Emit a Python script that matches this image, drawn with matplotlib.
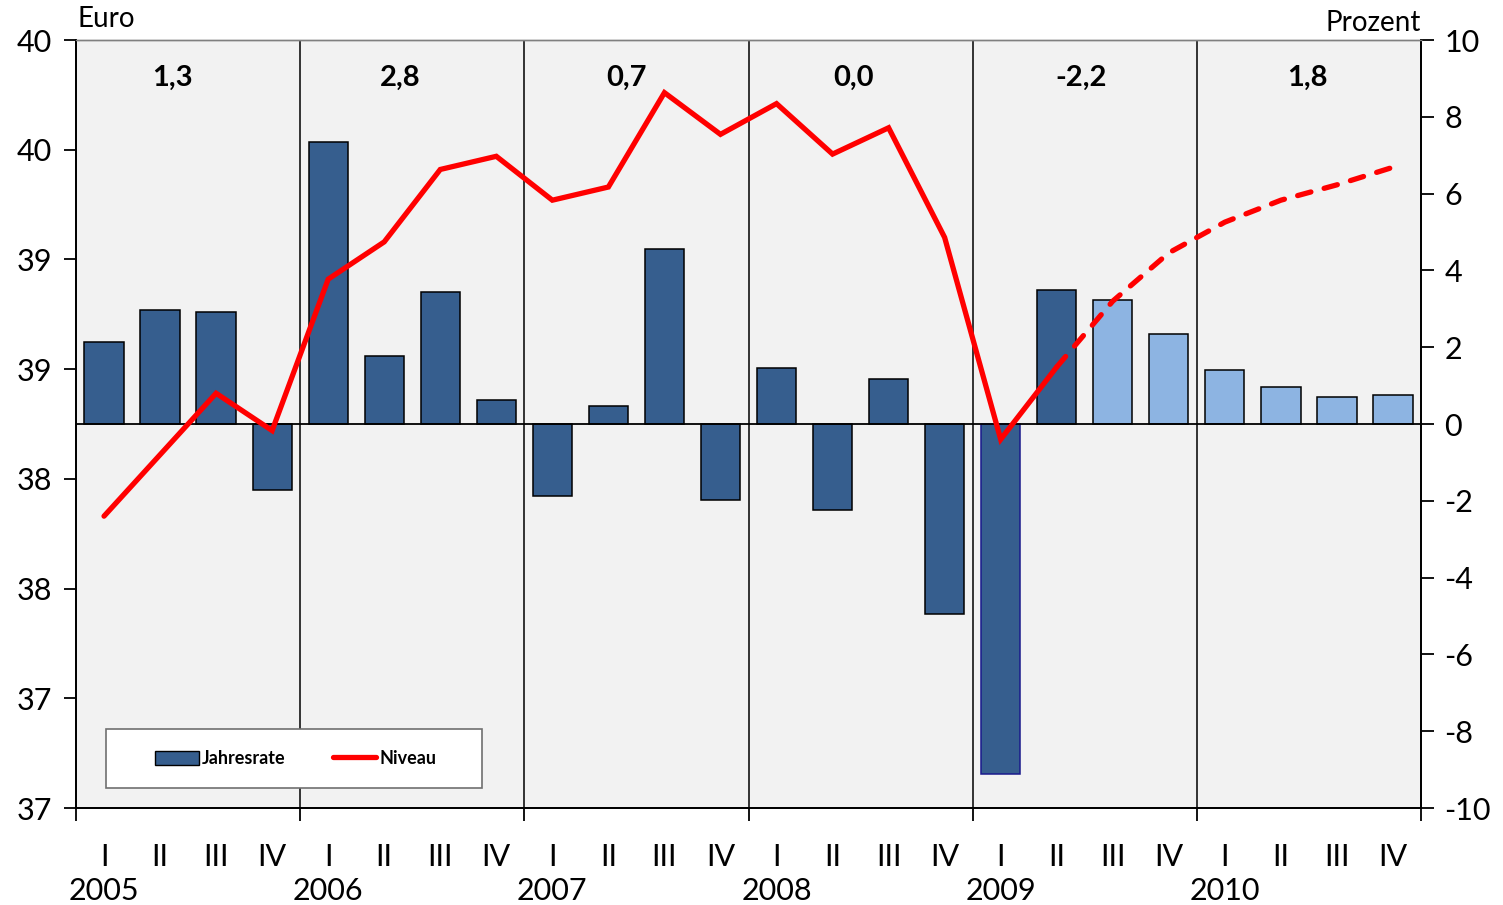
import matplotlib.pyplot as plt
from matplotlib.patches import Rectangle, Patch
from matplotlib.lines import Line2D

plt.rcParams['font.family'] = ['Lato', 'DejaVu Sans']

# Daten
years = ['2005', '2006', '2007', '2008', '2009', '2010']
quarters = ['I', 'II', 'III', 'IV']
annual = ['1,3', '2,8', '0,7', '0,0', '-2,2', '1,8']

# Jahresrate (Prozent, rechte Achse)
rate = [2.14, 2.97, 2.92, -1.72,
        7.34, 1.77, 3.44, 0.63,
        -1.88, 0.47, 4.56, -1.98,
        1.46, -2.24, 1.17, -4.95,
        -9.11, 3.49, 3.23, 2.34,
        1.41, 0.96, 0.70, 0.76]
# Niveau (Euro, linke Achse)
niveau = [38.08, 38.36, 38.64, 38.47,
          39.16, 39.33, 39.66, 39.72,
          39.52, 39.58, 40.01, 39.82,
          39.96, 39.73, 39.85, 39.35,
          38.43, 38.76, 39.06, 39.28,
          39.42, 39.52, 39.59, 39.67]
n_ist = 18  # ab hier Prognose

dark = '#365E8E'
light = '#8DB4E2'
red = '#FF0000'

fig = plt.figure(figsize=(15.03, 9.05), dpi=100)
ax = fig.add_axes([76/1503, 97/905, 1345/1503, 768/905])
ax2 = ax.twinx()

x = list(range(len(rate)))
colors = [dark if i < n_ist else light for i in x]
edges = ['black'] * len(x)
edges[16] = '#1a1a8c'
ax.bar(x, rate, width=0.7, color=colors, edgecolor=edges, linewidth=1.1, zorder=3)
ax.axhline(0, color='black', lw=1.3, zorder=4)
for k in range(1, 6):
    ax.axvline(4*k - 0.5, color='black', lw=1.1, zorder=2)
ax.set_facecolor('#F2F2F2')
ax.set_xlim(-0.5, 23.5)
ax.set_ylim(-10, 10)
ax.yaxis.tick_right()
ax.set_yticks(range(-10, 11, 2))
ax.set_yticklabels([str(v) for v in range(-10, 11, 2)])

ax2.plot(x[:n_ist], niveau[:n_ist], color=red, lw=3.8, solid_capstyle='round',
         solid_joinstyle='miter', zorder=5)
ax2.plot(x[n_ist-1:], niveau[n_ist-1:], color=red, lw=3.8, dashes=(2.6, 2.6),
         dash_capstyle='round', zorder=5)
ax2.set_ylim(36.75, 40.25)
yt = [36.75 + 0.5*i for i in range(8)]
ax2.set_yticks(yt)
ax2.set_yticklabels(['%.0f' % round(v + 0.01) for v in yt])
ax2.yaxis.tick_left()

for a in (ax, ax2):
    a.spines['top'].set_color('#808080')
    a.spines['top'].set_linewidth(1.0)
    for s in ('left', 'right', 'bottom'):
        a.spines[s].set_linewidth(1.3)
        a.spines[s].set_color('black')
    a.tick_params(axis='y', labelsize=22, length=9, width=1.3, pad=8)

ax.set_xticks([4*k - 0.5 for k in range(7)])
ax.set_xticklabels([])
ax.tick_params(axis='x', length=9, width=1.3, direction='out')

trans = ax.get_xaxis_transform()
for i in x:
    ax.text(i, -0.064, quarters[i % 4], transform=trans, ha='center', va='center', fontsize=22)
for k, y in enumerate(years):
    ax.text(4*k, -0.108, y, transform=trans, ha='center', va='center', fontsize=22)
    ax.text(4.05*k + 1.23, 0.951, annual[k], transform=trans, ha='center', va='center',
            fontsize=21, fontweight='bold', zorder=6)

fig.text(78/1503, 1 - 19/905, 'Euro', ha='left', va='center', fontsize=20)
fig.text(1421/1503, 1 - 23/905, 'Prozent', ha='right', va='center', fontsize=20)

# Legende
ax2.add_patch(Rectangle((30/1345, 20/768), 376/1345, 59/768, transform=ax.transAxes,
                        facecolor='white', edgecolor='#707070', lw=1.2, zorder=7))
handles = [Patch(facecolor=dark, edgecolor='black', lw=1.0),
           Line2D([0], [0], color=red, lw=3.8, solid_capstyle='round')]
leg = ax2.legend(handles, ['Jahresrate', 'Niveau'], ncol=2, frameon=False,
                 loc='center', bbox_to_anchor=((30 + 190)/1345, (20 + 29.5)/768),
                 bbox_transform=ax.transAxes, handlelength=2.4,
                 handleheight=0.8, handletextpad=0.2, columnspacing=2.6,
                 prop={'weight': 'bold', 'size': 13})
leg.set_zorder(8)

fig.savefig('out.png', dpi=100)
